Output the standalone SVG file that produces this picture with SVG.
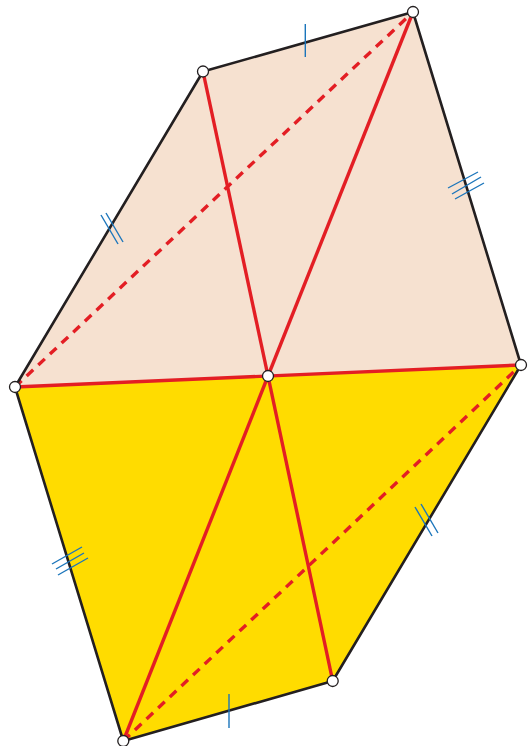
<svg xmlns="http://www.w3.org/2000/svg" width="528" height="746" viewBox="0 0 528 746">
<style>
.edge{stroke:#231f20;stroke-width:2.6;fill:none;stroke-linejoin:round}
.red{stroke:#e31e24;stroke-width:3.4;fill:none;stroke-linecap:butt}
.dash{stroke:#e31e24;stroke-width:3.4;fill:none;stroke-dasharray:9 7}
.tick{stroke:#1b75bb;stroke-width:1.4;fill:none}
.pt{fill:#ffffff;stroke:#231f20;stroke-width:1.3}
</style>
<rect width="528" height="746" fill="#ffffff"/>
<g id="regions">
<polygon id="upper" points="15,387 203,71.5 413,12 521,365 268,376" fill="#f6e1d0"/>
<polygon id="lower" points="15,387 268,376 521,365 332.7,681 123.3,741" fill="#ffdc00"/>
</g>
<g id="connectors">
<line class="dash" x1="15" y1="387" x2="413" y2="12"/>
<line class="dash" x1="123.3" y1="741" x2="521" y2="365"/>
<line class="red" x1="15" y1="387" x2="521" y2="365"/>
<line class="red" x1="203" y1="71.5" x2="268" y2="376"/>
<line class="red" x1="413" y1="12" x2="268" y2="376"/>
<line class="red" x1="268" y1="376" x2="123.3" y2="741"/>
<line class="red" x1="268" y1="376" x2="332.7" y2="681"/>
<polyline class="edge" points="15,387 203,71.5 413,12 521,365 332.7,681 123.3,741 15,387"/>
</g>
<g id="ticks">
<line class="tick" x1="305.3" y1="24" x2="305.3" y2="57"/>
<line class="tick" x1="229" y1="694" x2="229" y2="728"/>
<line class="tick" x1="101" y1="215" x2="118" y2="244"/>
<line class="tick" x1="106" y1="213" x2="123" y2="242"/>
<line class="tick" x1="415" y1="507" x2="432" y2="536"/>
<line class="tick" x1="421" y1="504" x2="438" y2="533"/>
<line class="tick" x1="448" y1="188" x2="478" y2="172"/>
<line class="tick" x1="452" y1="194" x2="481" y2="177"/>
<line class="tick" x1="455" y1="199" x2="484" y2="183"/>
<line class="tick" x1="52" y1="564" x2="82" y2="547"/>
<line class="tick" x1="56" y1="569" x2="84" y2="553"/>
<line class="tick" x1="58" y1="575" x2="88" y2="558"/>
</g>
<g id="nodeA"><circle class="pt" cx="203" cy="71.5" r="5.5"/></g>
<g id="nodeB"><circle class="pt" cx="413" cy="12" r="5.5"/></g>
<g id="nodeC"><circle class="pt" cx="521" cy="365" r="5.5"/></g>
<g id="nodeO"><circle class="pt" cx="268" cy="376" r="5.5"/></g>
<g id="nodeD"><circle class="pt" cx="15" cy="387" r="5.5"/></g>
<g id="nodeE"><circle class="pt" cx="123.3" cy="741" r="5.5"/></g>
<g id="nodeF"><circle class="pt" cx="332.7" cy="681" r="5.5"/></g>
</svg>
